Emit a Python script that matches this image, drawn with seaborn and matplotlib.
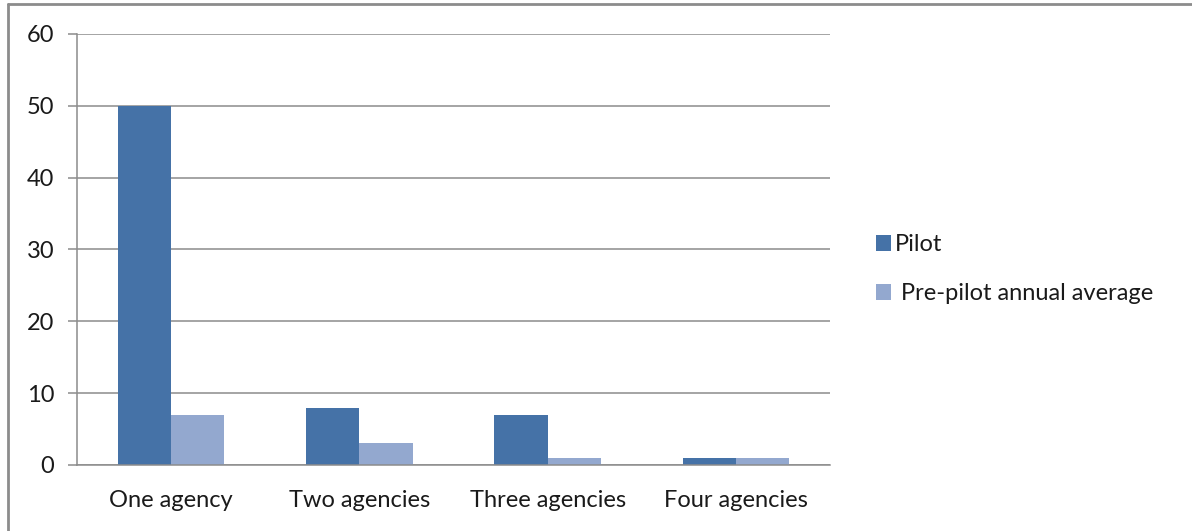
import matplotlib
matplotlib.use("Agg")
import matplotlib.pyplot as plt
import seaborn as sns
import pandas as pd
from matplotlib.lines import Line2D
from matplotlib.patches import Patch

categories = ["One agency", "Two agencies", "Three agencies", "Four agencies"]
series_names = ["Pilot", " Pre-pilot annual average"]
pilot = [50, 8, 7, 1]
pre_pilot = [7, 3, 1, 1]
y_ticks = [0, 10, 20, 30, 40, 50, 60]

colors = ["#4572A7", "#93A8CF"]

df = pd.DataFrame({
    "category": categories * 2,
    "series": [series_names[0]] * len(categories) + [series_names[1]] * len(categories),
    "value": pilot + pre_pilot,
})

sns.set_theme(style="white")
plt.rcParams["font.family"] = ["Lato", "DejaVu Sans"]

fig = plt.figure(figsize=(11.92, 5.31), dpi=100)
ax = fig.add_axes([0.0646, 0.1243, 0.6317, 0.8117])

sns.barplot(data=df, x="category", y="value", hue="series", order=categories,
            hue_order=series_names, palette=colors, width=0.566, gap=0,
            saturation=1, linewidth=0, legend=False, ax=ax)

ax.set_xlim(-0.5, len(categories) - 0.5)
ax.set_ylim(0, 60)
ax.set_yticks(y_ticks)
ax.yaxis.grid(True, color="#8c8c8c", linewidth=1.1)
ax.set_axisbelow(True)
ax.set_xlabel("")
ax.set_ylabel("")

for side in ["top", "right"]:
    ax.spines[side].set_visible(False)
ax.spines["left"].set_color("#8c8c8c")
ax.spines["bottom"].set_color("#8c8c8c")
ax.spines["left"].set_linewidth(1.1)
ax.spines["bottom"].set_linewidth(1.1)

ax.tick_params(axis="y", which="major", left=True, length=6.5, width=1.1,
               color="#8c8c8c", pad=10, labelsize=17, labelcolor="#1a1a1a")
ax.tick_params(axis="x", which="major", bottom=False, pad=12, labelsize=17,
               labelcolor="#1a1a1a")

handles = [Patch(facecolor=c, edgecolor="none") for c in colors]
fig.legend(handles, series_names, loc="center left", bbox_to_anchor=(0.717, 0.493),
           frameon=False, fontsize=17, handlelength=0.65, handleheight=0.65,
           handletextpad=0.15, labelspacing=1.2, labelcolor="#1a1a1a")

# outer frame: only the top and left edges are drawn
fig.add_artist(Line2D([0.0068, 0.0068], [0.0, 0.9925], transform=fig.transFigure,
                      color="#8c8c8c", linewidth=2))
fig.add_artist(Line2D([0.0068, 1.0], [0.9925, 0.9925], transform=fig.transFigure,
                      color="#8c8c8c", linewidth=2))

fig.savefig("out.png", dpi=100)
